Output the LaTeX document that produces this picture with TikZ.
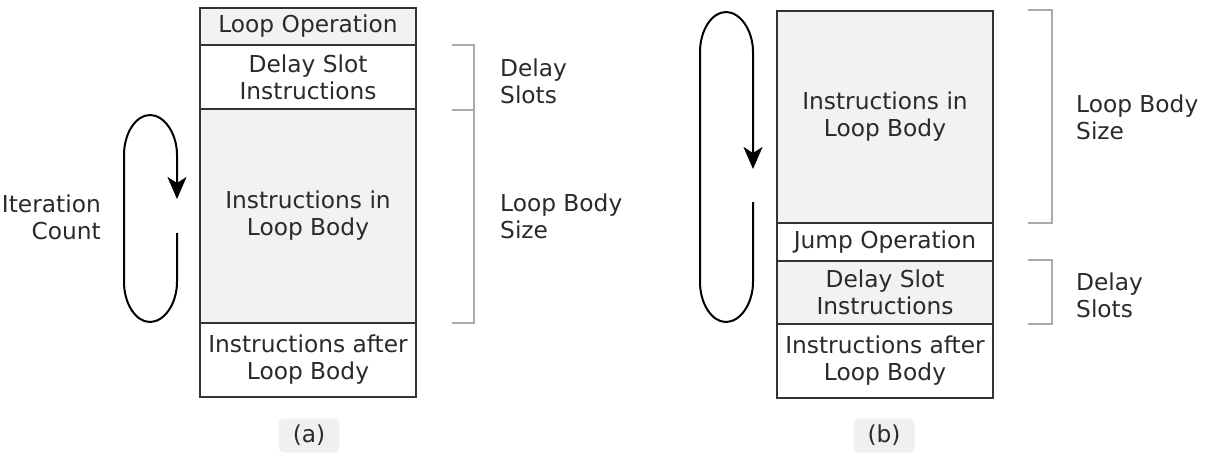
\documentclass[tikz,border=0pt]{standalone}
\usepackage{fontspec}
\setmainfont{DejaVu Sans}
\usetikzlibrary{arrows.meta}
\definecolor{boxfill}{HTML}{F2F2F2}
\definecolor{boxline}{HTML}{333333}
\definecolor{txt}{HTML}{2A2A2A}
\definecolor{brk}{HTML}{AAAAAA}
\definecolor{tagfill}{HTML}{F0F0F0}
\tikzset{
  x=1pt, y=-1pt,
  cell/.style={draw=boxline, line width=1.8pt, inner sep=0pt, outer sep=0pt,
    minimum width=216pt, align=center, text=txt,
    font=\fontsize{23.3}{27}\selectfont},
  graycell/.style={cell, fill=boxfill},
  lbl/.style={inner sep=0pt, align=left, anchor=west, text=txt,
    font=\fontsize{23.3}{27}\selectfont},
  bracket/.style={draw=brk, line width=2pt},
  loopline/.style={draw=black, line width=2pt},
  looparrow/.style={loopline, -{Stealth[length=22pt,width=19pt,inset=6pt]}},
  tag/.style={fill=tagfill, rounded corners=5pt, minimum width=61pt,
    minimum height=34pt, inner sep=0pt, text=txt,
    font=\fontsize{23.3}{27}\selectfont}
}
\begin{document}
\begin{tikzpicture}
\useasboundingbox (0,0) rectangle (1210,471);
% ---------- (a) ----------
\node[graycell, minimum height=37pt] (a1) at (308,26.5) {Loop Operation};
\node[cell, minimum height=64pt] (a2) at (308,77) {Delay Slot\\Instructions};
\node[graycell, minimum height=214pt] (a3) at (308,216) {Instructions in\\Loop Body};
\node[cell, minimum height=74pt] (a4) at (308,360) {Instructions after\\Loop Body};
% brackets
\draw[bracket] (452,45) -- (474,45) -- (474,110) -- (452,110);
\draw[bracket] (474,110) -- (474,323) -- (452,323);
\node[lbl] (ad) at (500,81) {Delay\\Slots};
\node[lbl] (al) at (500,216.5) {Loop Body\\Size};
\node[inner sep=0pt, align=right, anchor=east, text=txt,
  font=\fontsize{23.3}{27}\selectfont] (it) at (101,217) {Iteration\\Count};
% loop
\coordinate (as) at (177,233);
\coordinate (ae) at (177,199);
\draw[looparrow] (as) -- (177,282)
  .. controls (177,304) and (164,322) .. (150,322)
  .. controls (136,322) and (124,304) .. (124,282)
  -- (124,155)
  .. controls (124,133) and (136,115) .. (150,115)
  .. controls (164,115) and (177,133) .. (177,155)
  -- (ae);
\node[tag] (ta) at (309,435.5) {(a)};
% ---------- (b) ----------
\node[graycell, minimum height=212pt] (b1) at (885,117) {Instructions in\\Loop Body};
\node[cell, minimum height=38pt] (b2) at (885,242) {Jump Operation};
\node[graycell, minimum height=63pt] (b3) at (885,292.5) {Delay Slot\\Instructions};
\node[cell, minimum height=74pt] (b4) at (885,361) {Instructions after\\Loop Body};
\draw[bracket] (1028,10) -- (1052,10) -- (1052,223) -- (1028,223);
\draw[bracket] (1028,260) -- (1052,260) -- (1052,324) -- (1028,324);
\node[lbl] (bl) at (1076,117) {Loop Body\\Size};
\node[lbl] (bd) at (1076,295) {Delay\\Slots};
\coordinate (bs) at (753,202);
\coordinate (be) at (753,169);
\draw[looparrow] (bs) -- (753,282)
  .. controls (753,304) and (740,322) .. (726,322)
  .. controls (712,322) and (700,304) .. (700,282)
  -- (700,52)
  .. controls (700,30) and (712,12) .. (726,12)
  .. controls (740,12) and (753,30) .. (753,52)
  -- (be);
\node[tag] (tb) at (884,435.5) {(b)};
\end{tikzpicture}
\end{document}
